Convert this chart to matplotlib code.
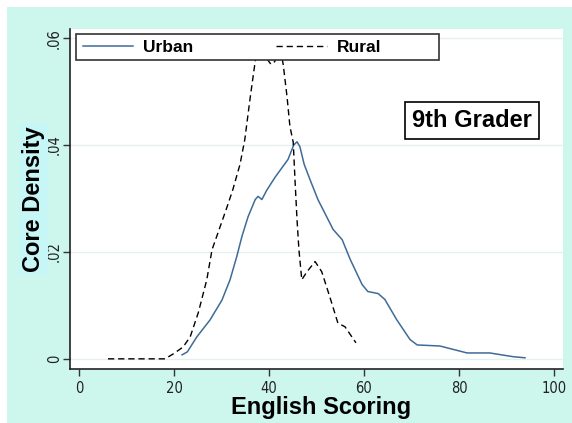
import matplotlib.pyplot as plt
from matplotlib.patches import Rectangle

urban_x = [21.7, 22.8, 24.8, 27.6, 30.1, 31.8, 33.2, 34.3, 35.6, 37.1, 37.7, 38.5, 39.5,
           41.3, 44.0, 45.2, 45.9, 46.5, 47.4, 48.6, 50.3, 53.5, 55.4, 57.1, 59.6, 60.8,
           63.0, 64.4, 66.9, 69.7, 71.2, 76.0, 81.7, 86.5, 91.4, 93.9]
urban_y = [0.00075, 0.0013, 0.0041, 0.0073, 0.011, 0.0148, 0.0191, 0.0229, 0.0266, 0.0298,
           0.0304, 0.0298, 0.0315, 0.034, 0.0373, 0.0400, 0.0406, 0.0397, 0.0364, 0.0336,
           0.0298, 0.0242, 0.0223, 0.0186, 0.0139, 0.0126, 0.0122, 0.0111, 0.0073, 0.0036,
           0.0026, 0.0024, 0.0011, 0.0011, 0.0004, 0.0002]

rural_x = [6.1, 18.1, 19.8, 21.9, 23.4, 25.1, 26.9, 28.0, 29.7, 31.2, 32.4, 33.9, 34.9, 36.0,
           37.1, 38.3, 39.5, 40.4, 41.2, 42.3, 43.0, 43.8, 44.4, 45.1, 45.5, 45.9, 46.3,
           46.9, 48.0, 49.7, 51.1, 52.8, 54.5, 56.0, 58.3]
rural_y = [0.0, 0.0, 0.0009, 0.0022, 0.0041, 0.0086, 0.0148, 0.0204, 0.0247, 0.0285, 0.0317,
           0.0364, 0.041, 0.0486, 0.0557, 0.0585, 0.0562, 0.0551, 0.0556, 0.0585, 0.055,
           0.049, 0.0435, 0.0405, 0.033, 0.026, 0.0204, 0.0148, 0.0163, 0.0182, 0.0163,
           0.0116, 0.0067, 0.006, 0.003]

x_ticks = [0, 20, 40, 60, 80, 100]
y_ticks = [0, 0.02, 0.04, 0.06]
y_tick_labels = ['0', '.02', '.04', '.06']

mint = '#cdf6ed'
blue = '#3e6b97'
bold = ['Liberation Sans', 'DejaVu Sans']

fig = plt.figure(figsize=(5.72, 4.23), dpi=100, facecolor='white')
fig.patches.append(Rectangle((7 / 572, 0), 1 - 7 / 572, 416 / 423,
                             transform=fig.transFigure, facecolor=mint,
                             edgecolor='none', zorder=0))

ax = fig.add_axes([70 / 572, 54 / 423, 493 / 572, 340 / 423])
ax.set_zorder(5)
ax.set_facecolor('white')

dash = (0, (4.5, 2.8))
ax.plot(urban_x, urban_y, color=blue, lw=1.1, label='Urban')
ax.plot(rural_x, rural_y, color='black', lw=1.0, linestyle=dash, label='Rural')

ax.set_xlim(-1.9, 101.9)
ax.set_ylim(-0.0019, 0.0617)
ax.set_xticks(x_ticks)
ax.set_yticks(y_ticks)
ax.set_yticklabels(y_tick_labels, rotation=90, va='center')
ax.grid(axis='y', color='#e6efee', lw=1.0)
ax.set_axisbelow(True)

for s in ['top', 'right']:
    ax.spines[s].set_visible(False)
for s in ['left', 'bottom']:
    ax.spines[s].set_color('#222222')
    ax.spines[s].set_linewidth(1.2)

ax.tick_params(direction='out', length=5, width=1, color='#333333',
               labelsize=10.5, labelcolor='#222222')
ax.tick_params(axis='y', pad=1)
for lbl in ax.get_xticklabels() + ax.get_yticklabels():
    lbl.set_family('DejaVu Sans')
    lbl.set_stretch('condensed')

ax.set_xlabel('English Scoring', family=bold, fontsize=17, fontweight='bold', labelpad=0)
ax.xaxis.label.set_x(0.51)
ax.set_ylabel('Core Density', family=bold, fontsize=17, fontweight='bold', labelpad=1,
              bbox=dict(facecolor='#c6f6f6', edgecolor='none', pad=2))

# legend box drawn by hand so it can be wider than its entries
ax.add_patch(Rectangle((0.0122, 0.909), 0.7363, 0.076, transform=ax.transAxes,
                       facecolor='white', edgecolor='#333333', lw=1.2, zorder=4,
                       clip_on=False))
leg = ax.legend(loc='center left', bbox_to_anchor=((83 - 70) / 493, 0.947),
                ncol=2, frameon=False, handlelength=2.9, handletextpad=0.55,
                columnspacing=4.8, borderpad=0, borderaxespad=0,
                prop={'family': bold, 'size': 12.5, 'weight': 'bold'})
leg.set_zorder(6)

ax.text(0.815, 0.732, '9th Grader', transform=ax.transAxes, ha='center', va='center',
        family=bold, fontsize=17, fontweight='bold',
        bbox=dict(boxstyle='square,pad=0.3', facecolor='white', edgecolor='black', lw=1.2))

fig.savefig('out.png', dpi=100, facecolor=fig.get_facecolor())
